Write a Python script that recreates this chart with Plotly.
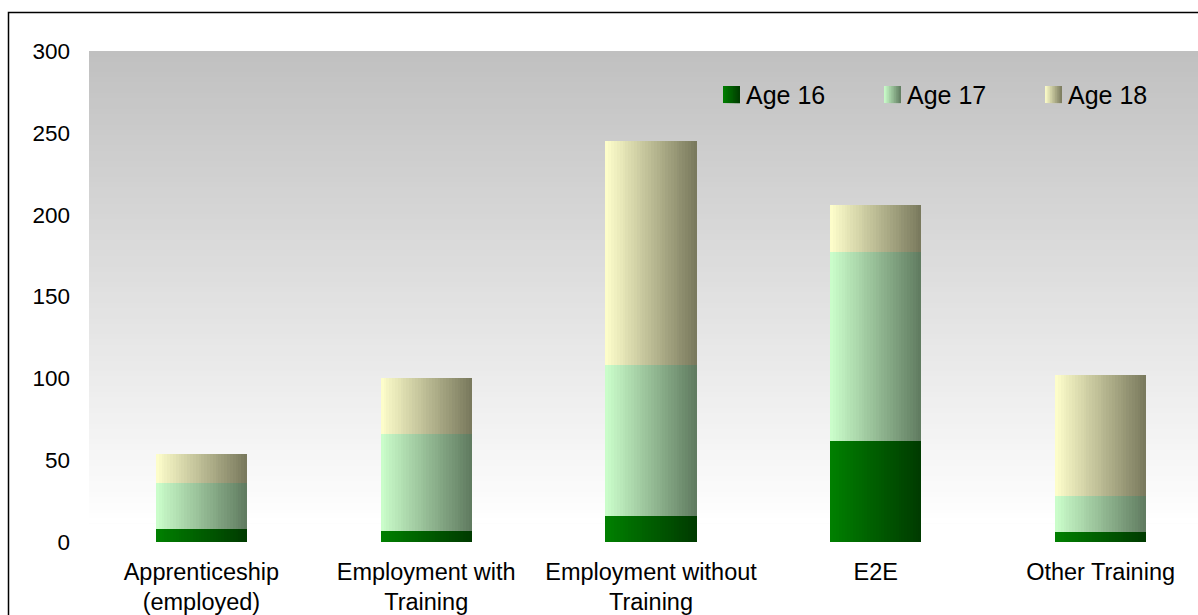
import plotly.graph_objects as go

# Destination counts by age group
categories = ["Apprenticeship<br>(employed)", "Employment with<br>Training",
              "Employment without<br>Training", "E2E", "Other Training"]
age16 = [8, 7, 16, 62, 6]
age17 = [28, 59, 92, 115, 22]
age18 = [18, 34, 137, 29, 74]
series_names = ["Age 16", "Age 17", "Age 18"]
y_ticks = [0, 50, 100, 150, 200, 250, 300]

# light -> dark colour pairs for the horizontal bar gradients
gradients = [((0, 128, 0), (0, 58, 0)),
             ((204, 255, 204), (95, 122, 95)),
             ((255, 255, 204), (120, 120, 92))]

FONT = "Arial, Liberation Sans, sans-serif"
WIDTH, HEIGHT = 1198, 615
LEFT, TOP, BOTTOM = 89, 51, 541.7
PW, PH = WIDTH - LEFT, BOTTOM - TOP


def px_x(p):
    return (p - LEFT) / PW


def px_y(p):
    return (BOTTOM - p) / PH


def mix(c0, c1, t):
    r, g, b = (round(a + (b_ - a) * t) for a, b_ in zip(c0, c1))
    return f"rgb({r},{g},{b})"


fig = go.Figure()

x_pos = list(range(len(categories)))
bar_w = 0.405
n_slices = 32
base = [0] * len(categories)
for name, vals, (c_light, c_dark) in zip(series_names, [age16, age17, age18], gradients):
    for k in range(n_slices):
        t = (k + 0.5) / n_slices
        fig.add_trace(go.Bar(
            x=x_pos, y=vals, base=base,
            width=bar_w / n_slices,
            offset=-bar_w / 2 + k * bar_w / n_slices,
            marker=dict(color=mix(c_light, c_dark, t), line=dict(width=0)),
            name=name, showlegend=False, hoverinfo="skip" if k else "y+name",
        ))
    base = [b + v for b, v in zip(base, vals)]

shapes = []
# vertical grey-to-white plot background; each strip runs to the bottom so
# the next one overlaps it and no seams show
n_strips = 90
bg_top, bg_bot = 51, 523
for i in range(n_strips):
    y0 = bg_top + (bg_bot - bg_top) * i / n_strips
    t = (i + 0.5) / n_strips
    shapes.append(dict(type="rect", xref="paper", yref="paper", layer="below",
                       x0=0, x1=1, y0=px_y(bg_bot), y1=px_y(y0),
                       fillcolor=mix((192, 192, 192), (255, 255, 255), t),
                       line=dict(width=0)))

# outer chart border
shapes.append(dict(type="rect", xref="paper", yref="paper",
                   x0=px_x(8.5), x1=px_x(WIDTH + 20), y0=px_y(HEIGHT + 20), y1=px_y(12.5),
                   line=dict(color="black", width=1.5), fillcolor="rgba(0,0,0,0)"))

# legend with gradient swatches
annotations = []
legend_x = [723, 884, 1045]
sw, sy0, sy1 = 17, 86, 103
for lx, name, (c_light, c_dark) in zip(legend_x, series_names, gradients):
    steps = 10
    for k in range(steps):
        t = (k + 0.5) / steps
        shapes.append(dict(type="rect", xref="paper", yref="paper",
                           x0=px_x(lx + sw * k / steps), x1=px_x(lx + sw),
                           y0=px_y(sy1), y1=px_y(sy0),
                           fillcolor=mix(c_light, c_dark, t), line=dict(width=0)))
    annotations.append(dict(xref="paper", yref="paper", x=px_x(lx + sw + 4),
                            y=px_y((sy0 + sy1) / 2), text=name, showarrow=False,
                            xanchor="left", yanchor="middle",
                            font=dict(family=FONT, size=25, color="black")))

fig.update_layout(
    width=WIDTH, height=HEIGHT,
    margin=dict(l=LEFT, r=0, t=TOP, b=HEIGHT - BOTTOM, pad=0, autoexpand=False),
    barmode="overlay",
    bargap=0,
    paper_bgcolor="white", plot_bgcolor="rgba(0,0,0,0)",
    font=dict(family=FONT, size=23, color="black"),
    showlegend=False,
    shapes=shapes,
    annotations=annotations,
    xaxis=dict(range=[-0.5, -0.5 + PW / 224.8], tickvals=x_pos, ticktext=categories,
               showgrid=False, zeroline=False, showline=False, ticks="",
               ticklabelstandoff=13, tickfont=dict(size=23.5), fixedrange=True,
               automargin=False),
    yaxis=dict(range=[0, 300], tickvals=y_ticks, showgrid=False, zeroline=False,
               showline=False, ticks="", ticklabelstandoff=18,
               tickfont=dict(size=22.5), fixedrange=True, automargin=False),
)

fig.write_html("out.html")
